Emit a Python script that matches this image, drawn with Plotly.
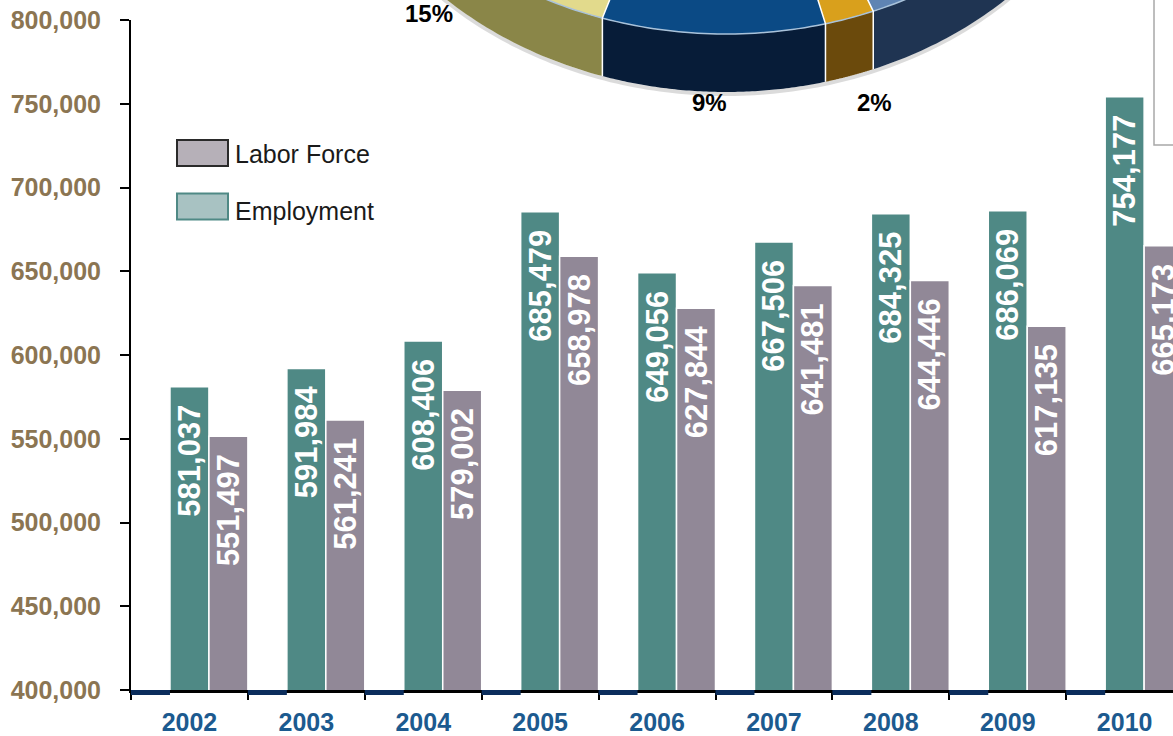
import numpy as np
import plotly.graph_objects as go

# ---------------- data ----------------
years = ["2002", "2003", "2004", "2005", "2006", "2007", "2008", "2009", "2010"]
employment = [581037, 591984, 608406, 685479, 649056, 667506, 684325, 686069, 754177]
labor_force = [551497, 561241, 579002, 658978, 627844, 641481, 644446, 617135, 665173]
baseline_marker = [1, 1, 1, 1, 1, 1, 1, 1, 1]
y_ticks = [400000, 450000, 500000, 550000, 600000, 650000, 700000, 750000, 800000]

legend_labels = ["Labor Force", "Employment"]

# overlapping pie (partially visible)
pie_labels = ["15%", "9%", "2%", ""]
pie_shares = [15, 9, 2, 13]

# ---------------- style ----------------
W, H = 1173, 736
ML, MR, MT, MB = 131, 0, 20, 41
PW, PH = W - ML - MR, H - MT - MB
STRIP = 5  # px height of the navy baseline strip

TEAL = "#4f8985"
GRAY = "#918897"
NAVY = "#0b2d5c"
BROWN = "#8b7552"
BLUE = "#1c5a8f"
FONT = "Liberation Sans, Arial, sans-serif"
PAD = "\u00a0\u2009"

pie_face_colors = ["#e2da8c", "#0b4a85", "#d9a01c", "#5f84b3"]
pie_side_colors = ["#8a8648", "#071c38", "#6b4a0c", "#1f3452"]
pie_label_px = [(429, 14), (709, 103), (875, 103)]


def pp(x, y):
    """pixel -> paper coordinates"""
    return (x - ML) / PW, (MT + PH - y) / PH


def path_from(points, close=True):
    s = ""
    for i, (x, y) in enumerate(points):
        X, Y = pp(x, y)
        s += ("M" if i == 0 else "L") + f"{X:.5f},{Y:.5f} "
    return s + ("Z" if close else "")


fig = go.Figure()

fig.add_trace(go.Bar(
    x=years, y=employment, name="Employment",
    marker=dict(color=TEAL, line=dict(color="white", width=1.5)),
    width=1 / 3, offset=-1 / 6,
    text=[f"{v:,}{PAD}" for v in employment],
    textposition="inside", insidetextanchor="end", textangle=-90,
    constraintext="none",
    insidetextfont=dict(family=FONT, size=31, color="white", weight="bold"),
    showlegend=False, hoverinfo="skip",
))
fig.add_trace(go.Bar(
    x=years, y=labor_force, name="Labor Force",
    marker=dict(color=GRAY, line=dict(color="white", width=1.5)),
    width=1 / 3, offset=1 / 6,
    text=[f"{v:,}{PAD}" for v in labor_force],
    textposition="inside", insidetextanchor="end", textangle=-90,
    constraintext="none",
    insidetextfont=dict(family=FONT, size=31, color="white", weight="bold"),
    showlegend=False, hoverinfo="skip",
))
fig.add_trace(go.Bar(
    x=years, y=baseline_marker, xaxis="x2", yaxis="y2",
    marker=dict(color=NAVY, line=dict(width=0)),
    width=1 / 3, offset=-0.5, showlegend=False, hoverinfo="skip",
))

x_end = -0.5 + PW / 116.9

fig.update_layout(
    width=W, height=H,
    margin=dict(l=ML, r=MR, t=MT, b=MB, pad=0),
    paper_bgcolor="white", plot_bgcolor="white",
    barmode="overlay",
    xaxis=dict(
        type="category", range=[-0.5, x_end], anchor="y",
        showline=True, linecolor="black", linewidth=2.5,
        ticks="outside", tickson="boundaries", ticklen=7, tickwidth=2, tickcolor="black",
        tickfont=dict(family=FONT, size=25, color=BLUE, weight="bold"),
        ticklabelstandoff=8, showgrid=False, zeroline=False, automargin=False,
    ),
    yaxis=dict(
        domain=[STRIP / PH, 1], range=[400000, 800000],
        tickvals=y_ticks, tickformat=",d",
        showline=True, linecolor="black", linewidth=2,
        ticks="outside", ticklen=9, tickwidth=2, tickcolor="black",
        tickfont=dict(family=FONT, size=25, color=BROWN, weight="bold"),
        ticklabelstandoff=14, showgrid=False, zeroline=False, automargin=False,
    ),
    xaxis2=dict(matches="x", anchor="y2", visible=False),
    yaxis2=dict(domain=[0, STRIP / PH], range=[0, 1], anchor="x2", visible=False),
)

# ---------------- custom legend ----------------
legend_fill = ["#b6b0b8", "#a8c2c2"]
legend_border = ["#2a2a2a", TEAL]
legend_box_y = [153, 206.5]
legend_text_y = [154, 211]
shapes = []
annotations = []
for lab, fc, bc, yb, yt in zip(legend_labels, legend_fill, legend_border, legend_box_y, legend_text_y):
    x0, y0 = pp(177, yb - 13)
    x1, y1 = pp(228, yb + 13)
    shapes.append(dict(type="rect", xref="paper", yref="paper", x0=x0, x1=x1, y0=y1, y1=y0,
                       fillcolor=fc, line=dict(color=bc, width=2)))
    tx, ty = pp(233, yt)
    annotations.append(dict(xref="paper", yref="paper", x=tx, y=ty, text=lab, showarrow=False,
                            xanchor="left", yanchor="middle",
                            font=dict(family=FONT, size=25, color="#1a1a1a")))

# ---------------- partial 3-D pie overlay ----------------
cx, cy, a, b, depth, start = 726, -291, 400, 325, 58, 162
angles = [start]
for s in pie_shares:
    angles.append(angles[-1] - s * 3.6)


def ell(t, dy=0):
    r = np.radians(t)
    return cx + a * np.cos(r), cy + dy + b * np.sin(r)


# shadow under the rim
ts = np.linspace(angles[0] + 20, angles[-1] - 20, 200)
shadow = [ell(t, depth + 2) for t in ts]
shapes.append(dict(type="path", xref="paper", yref="paper", path=path_from(shadow, close=False),
                   line=dict(color="rgba(0,0,0,0.14)", width=4)))

ext_angles = list(angles)
ext_angles[0] = angles[0] + 20   # first slice continues off-view
ext_angles[-1] = angles[-1] - 20
for i in range(len(pie_shares)):
    t_hi = ext_angles[i] if i == 0 else angles[i]
    t_lo = ext_angles[i + 1] if i == len(pie_shares) - 1 else angles[i + 1]
    ts = np.linspace(t_hi, t_lo, 80)
    top = [ell(t) for t in ts]
    bot = [ell(t, depth) for t in ts[::-1]]
    shapes.append(dict(type="path", xref="paper", yref="paper", path=path_from(top + bot),
                       fillcolor=pie_side_colors[i], line=dict(width=0)))
    face = [(cx, cy)] + top
    shapes.append(dict(type="path", xref="paper", yref="paper", path=path_from(face),
                       fillcolor=pie_face_colors[i], line=dict(width=0)))

# face edge highlight
ts = np.linspace(ext_angles[0], ext_angles[-1], 200)
shapes.append(dict(type="path", xref="paper", yref="paper",
                   path=path_from([ell(t) for t in ts], close=False),
                   line=dict(color="#a9c2da", width=1.5)))
# slice separators
for t in angles[1:-1]:
    p_top = ell(t)
    p_bot = ell(t, depth)
    shapes.append(dict(type="path", xref="paper", yref="paper",
                       path=path_from([(cx, cy), p_top, p_bot], close=False),
                       line=dict(color="white", width=1.5)))

for lab, (lx, ly) in zip(pie_labels, pie_label_px):
    X, Y = pp(lx, ly)
    annotations.append(dict(xref="paper", yref="paper", x=X, y=Y, text=lab, showarrow=False,
                            xanchor="center", yanchor="middle",
                            font=dict(family=FONT, size=24, color="black", weight="bold")))

# partially visible legend box of the pie
bx = [(1154, -5), (1154, 145), (1180, 145)]
shapes.append(dict(type="path", xref="paper", yref="paper", path=path_from(bx, close=False),
                   line=dict(color="#a8a8a8", width=1.5)))

fig.update_layout(shapes=shapes, annotations=annotations)
fig.write_html(
    "out.html",
    config={"displayModeBar": False},
    post_script="document.body.style.margin='0';document.body.style.overflow='hidden';",
)
